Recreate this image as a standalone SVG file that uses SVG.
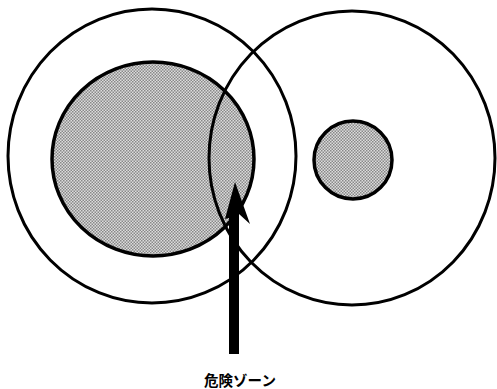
<svg xmlns="http://www.w3.org/2000/svg" width="497" height="389" viewBox="0 0 497 389">
<defs>
<pattern id="dots" width="3" height="3" patternUnits="userSpaceOnUse">
<rect width="3" height="3" fill="#dcdcdc"/>
<rect x="0" y="0" width="1.5" height="1.5" fill="#888"/>
<rect x="1.5" y="1.5" width="1.5" height="1.5" fill="#888"/>
</pattern>
</defs>
<style>
.ring{fill:none;stroke:#000;stroke-width:3}
.zone{fill:url(#dots);stroke:#000;stroke-width:3.5}
.label{font-family:"Noto Sans CJK JP",sans-serif;font-size:14.5px;font-weight:bold;fill:#000}
</style>
<rect width="497" height="389" fill="#fff"/>
<g id="left-inner"><ellipse class="zone" cx="153" cy="159" rx="101" ry="97"/></g>
<g id="right-inner"><circle class="zone" cx="353" cy="160" r="39"/></g>
<g id="left-outer"><ellipse class="ring" cx="152" cy="156" rx="144" ry="147"/></g>
<g id="right-outer"><ellipse class="ring" cx="352" cy="158" rx="143" ry="147"/></g>
<g id="connectors">
<path d="M229 354 L229 218 L225 219 L235 182 L250 224 L239 214 L239 354 Z" fill="#000"/>
</g>
<g id="label"><text class="label" x="240" y="386" text-anchor="middle">危険ゾーン</text></g>
</svg>
